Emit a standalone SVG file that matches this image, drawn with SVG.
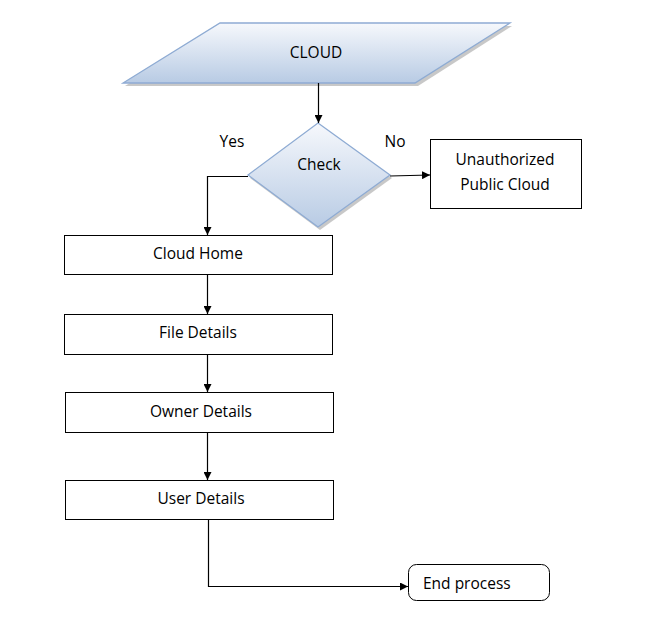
<svg xmlns="http://www.w3.org/2000/svg" width="647" height="629" viewBox="0 0 647 629">
<style>
text{font-family:"Open Sans","Liberation Sans",sans-serif;font-size:15.5px;fill:#000}
.box{fill:#fff;stroke:#000;stroke-width:1}
.blue{fill:url(#g);stroke:#8eabd3;stroke-width:1.3}
.shadow{fill:#9a9a9a;opacity:0.55}
.conn{fill:none;stroke:#000;stroke-width:1.2}
</style>
<defs>
<linearGradient id="g" x1="0" y1="0" x2="0" y2="1">
<stop offset="0" stop-color="#f6f8fc"/>
<stop offset="1" stop-color="#b8cbe4"/>
</linearGradient>
<marker id="arr" viewBox="0 0 10 10" refX="10" refY="5" markerWidth="8" markerHeight="8" markerUnits="userSpaceOnUse" orient="auto">
<path d="M0,0 L10,5 L0,10 z" fill="#000"/>
</marker>
</defs>
<rect width="647" height="629" fill="#fff"/>
<g id="cloud">
<polygon class="shadow" points="222,26 512,26 418,86 125,86"/>
<polygon class="blue" points="220,23 510,23 415,83 123,83"/>
<text x="316" y="58" text-anchor="middle">CLOUD</text>
</g>
<g id="check">
<polygon class="shadow" points="320,126 392,178 320,230 250,178"/>
<polygon class="blue" points="318,123 390,175 318,227 248,175"/>
<text x="319" y="170" text-anchor="middle">Check</text>
</g>
<g id="unauthorized">
<rect class="box" x="430.5" y="139.5" width="151" height="69"/>
<text x="505" y="165" text-anchor="middle">Unauthorized</text>
<text x="505" y="190" text-anchor="middle">Public Cloud</text>
</g>
<g id="cloudhome">
<rect class="box" x="64.5" y="235.5" width="268" height="39"/>
<text x="198" y="259" text-anchor="middle">Cloud Home</text>
</g>
<g id="filedetails">
<rect class="box" x="64.5" y="314.5" width="268" height="40"/>
<text x="198" y="338" text-anchor="middle">File Details</text>
</g>
<g id="ownerdetails">
<rect class="box" x="65.5" y="392.5" width="268" height="40"/>
<text x="201" y="417" text-anchor="middle">Owner Details</text>
</g>
<g id="userdetails">
<rect class="box" x="65.5" y="480.5" width="268" height="39"/>
<text x="201" y="504" text-anchor="middle">User Details</text>
</g>
<g id="endprocess">
<rect class="box" x="408.5" y="564.5" width="141" height="36" rx="8" ry="8"/>
<text x="423" y="589">End process</text>
</g>
<g id="labels">
<text x="232" y="147" text-anchor="middle">Yes</text>
<text x="395" y="147" text-anchor="middle">No</text>
</g>
<g id="connectors">
<path class="conn" d="M318.5,83 V123" marker-end="url(#arr)"/>
<path class="conn" d="M248,176.5 H207.5 V235" marker-end="url(#arr)"/>
<path class="conn" d="M390,176 L430,175" marker-end="url(#arr)"/>
<path class="conn" d="M207.5,275 V314" marker-end="url(#arr)"/>
<path class="conn" d="M207.5,355 V392" marker-end="url(#arr)"/>
<path class="conn" d="M207.5,433 V480" marker-end="url(#arr)"/>
<path class="conn" d="M208.5,520 V586.5 H408" marker-end="url(#arr)"/>
</g>
</svg>
